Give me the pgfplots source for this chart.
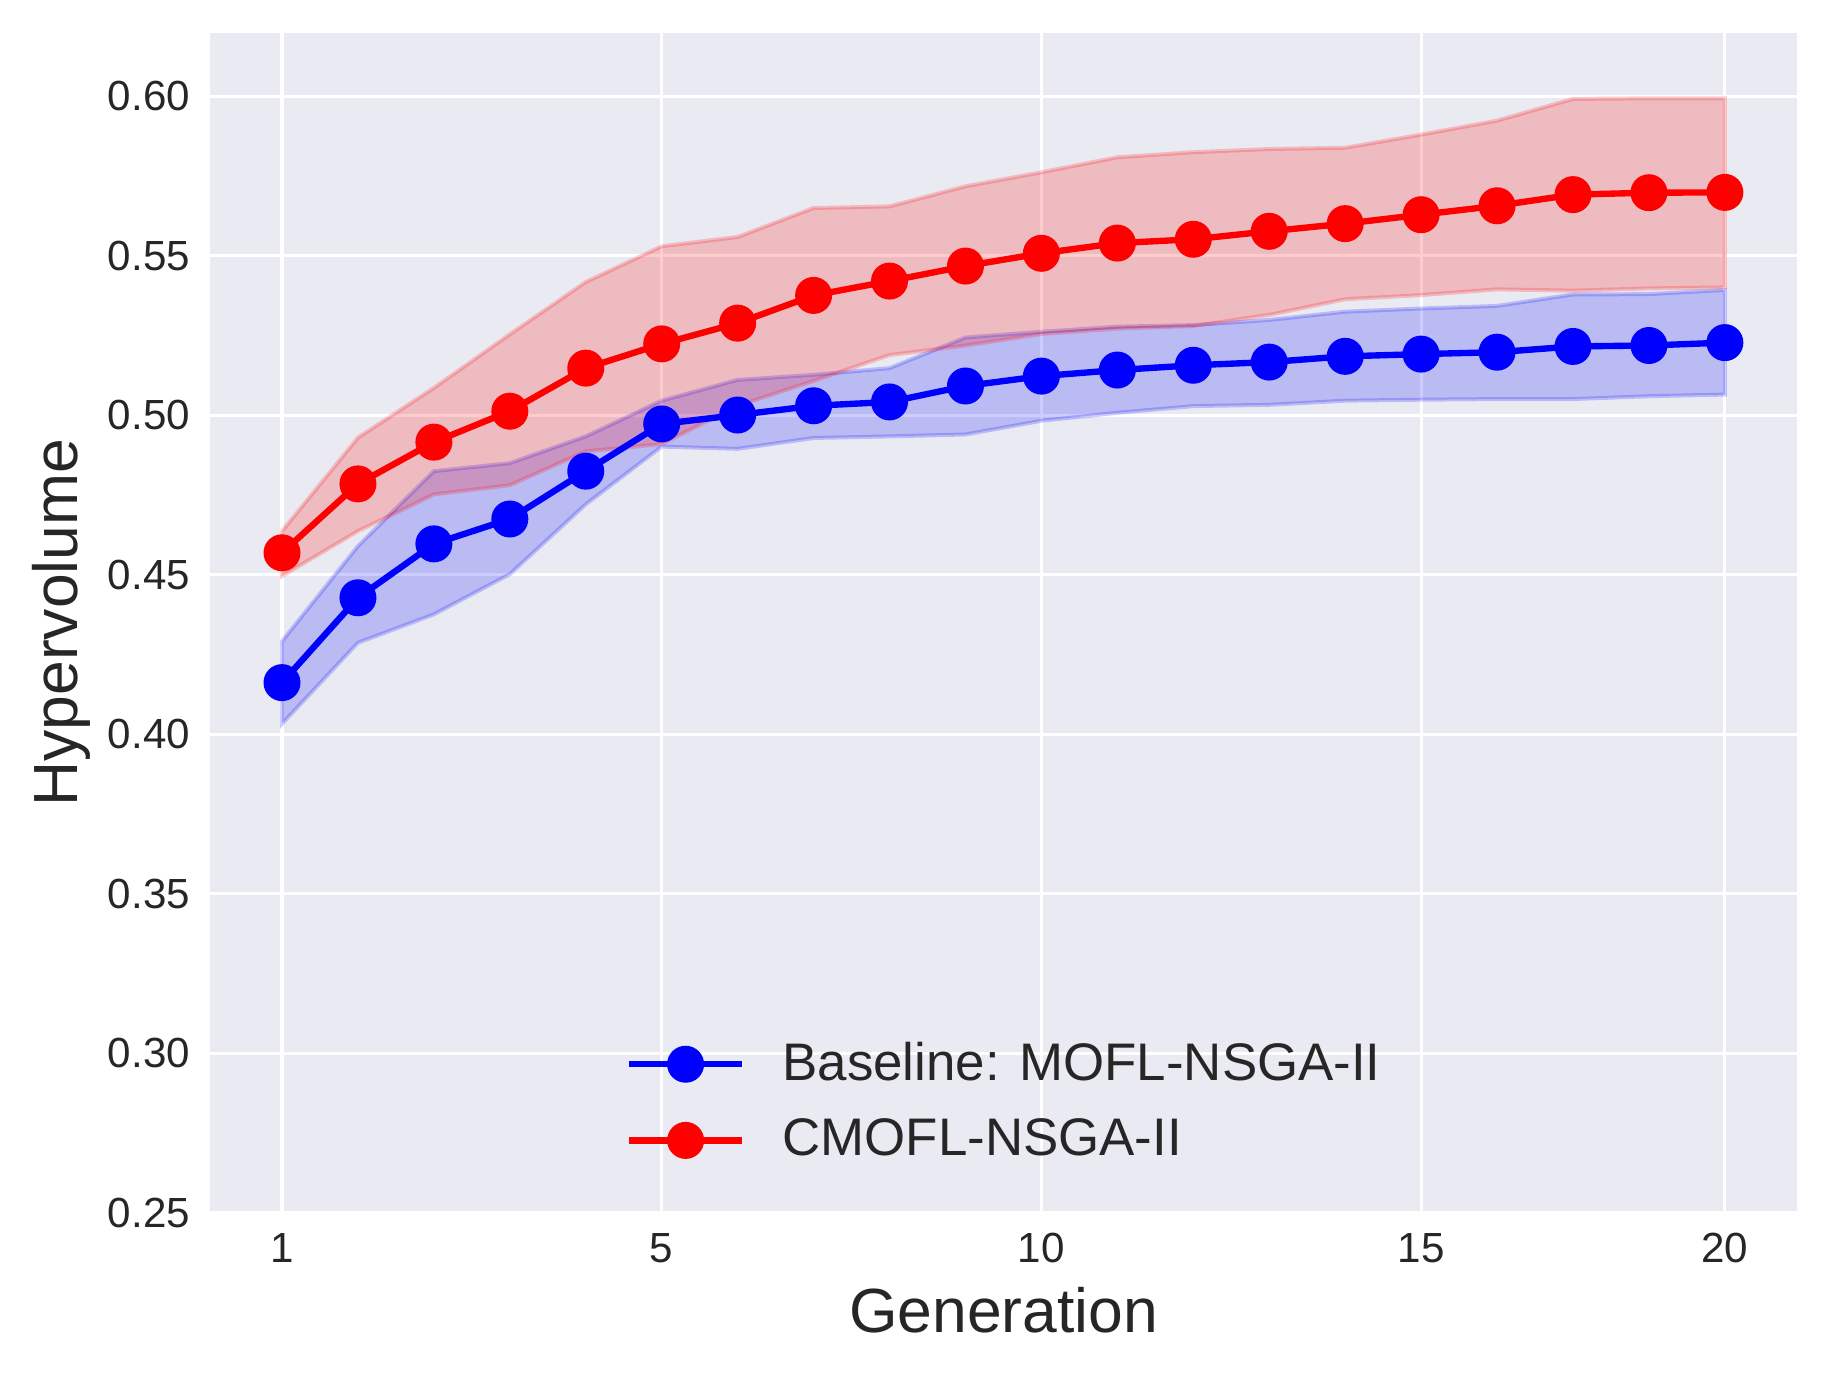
\documentclass[border=0pt]{standalone}
\usepackage{fontspec}
\setmainfont{Liberation Sans}
\usepackage{pgfplots}
\pgfplotsset{compat=1.18}
\definecolor{bg}{HTML}{EAEAF2}
\definecolor{txt}{HTML}{262626}
\begin{document}
\begin{tikzpicture}
\begin{axis}[
  at={(0,0)}, anchor=south west,
  scale only axis, width=399.3pt, height=296.9pt,
  xmin=-0.95, xmax=19.95, ymin=0.25, ymax=0.62,
  axis background/.style={fill=bg},
  axis line style={draw=none},
  major tick length=0pt,
  grid=major, major grid style={white, line width=0.8pt},
  xtick={0,5,10,15,19}, xticklabels={1,5,10,15,20},
  ytick={0.25,0.30,0.35,0.40,0.45,0.50,0.55,0.60},
  yticklabels={0.25,0.30,0.35,0.40,0.45,0.50,0.55,0.60},
  /pgf/number format/assume math mode=true,
  ticklabel style={font=\fontsize{10.6}{13}\selectfont, text=txt},
  xticklabel style={anchor=north, inner sep=0pt, yshift=-5pt},
  yticklabel style={anchor=east, inner sep=0pt, xshift=-4.8pt},
  xlabel={Generation}, ylabel={Hypervolume},
  label style={font=\fontsize{15.7}{19}\selectfont, text=txt},
  xlabel style={at={(axis description cs:0.5,-0.0825)}, anchor=center},
  ylabel style={at={(axis description cs:-0.0935,0.5)}, anchor=center},
  legend style={at={(axis description cs:0.5,0)}, anchor=south, yshift=12.6pt,
    draw=none, fill=none, inner sep=0pt, font=\fontsize{13.3}{15}\selectfont, text=txt,
    column sep=9.4pt, row sep=8.2pt, nodes={inner sep=0pt}, cells={anchor=west}},
  legend image code/.code={\draw[mark repeat=2,mark phase=2] plot coordinates {(0pt,0pt) (14.15pt,0pt) (28.3pt,0pt)};},
]
% blue band
\addplot[draw=blue, draw opacity=0.2, fill=blue, fill opacity=0.2, line width=1pt, forget plot] coordinates {
(0,0.4292) (1,0.4590) (2,0.4825) (3,0.4850) (4,0.4934) (5,0.5046) (6,0.5111) (7,0.5127) (8,0.5148) (9,0.5244)
(10,0.5262) (11,0.5278) (12,0.5283) (13,0.5299) (14,0.5325) (15,0.5335) (16,0.5343) (17,0.5379) (18,0.5380) (19,0.5393)
(19,0.5065) (18,0.5060) (17,0.5051) (16,0.5051) (15,0.5049) (14,0.5046) (13,0.5033) (12,0.5029) (11,0.5008) (10,0.4983)
(9,0.4940) (8,0.4934) (7,0.4929) (6,0.4895) (5,0.4902) (4,0.4721) (3,0.4502) (2,0.4376) (1,0.4287) (0,0.4033)
} -- cycle;
% red band
\addplot[draw=red, draw opacity=0.2, fill=red, fill opacity=0.2, line width=1pt, forget plot] coordinates {
(0,0.4637) (1,0.4930) (2,0.5086) (3,0.5254) (4,0.5418) (5,0.5530) (6,0.5559) (7,0.5650) (8,0.5655) (9,0.5718)
(10,0.5762) (11,0.5809) (12,0.5825) (13,0.5835) (14,0.5839) (15,0.5880) (16,0.5924) (17,0.5992) (18,0.5994) (19,0.5994)
(19,0.5401) (18,0.5398) (17,0.5391) (16,0.5395) (15,0.5377) (14,0.5364) (13,0.5315) (12,0.5280) (11,0.5272) (10,0.5255)
(9,0.5219) (8,0.5189) (7,0.5108) (6,0.5030) (5,0.4910) (4,0.4887) (3,0.4781) (2,0.4752) (1,0.4637) (0,0.4496)
} -- cycle;
\addplot[blue, line width=1.6pt, mark=*, mark size=3.85pt, mark options={solid, fill=blue, draw=none}] coordinates {
(0,0.4162) (1,0.4428) (2,0.4597) (3,0.4675) (4,0.4825) (5,0.4973) (6,0.5001) (7,0.5030) (8,0.5042) (9,0.5092)
(10,0.5123) (11,0.5142) (12,0.5157) (13,0.5167) (14,0.5185) (15,0.5192) (16,0.5198) (17,0.5216) (18,0.5219) (19,0.5228)
};
\addlegendentry{Baseline: MOFL-NSGA-II}
\addplot[red, line width=1.6pt, mark=*, mark size=3.85pt, mark options={solid, fill=red, draw=none}] coordinates {
(0,0.4569) (1,0.4785) (2,0.4916) (3,0.5013) (4,0.5148) (5,0.5224) (6,0.5289) (7,0.5376) (8,0.5421) (9,0.5468)
(10,0.5508) (11,0.5540) (12,0.5552) (13,0.5577) (14,0.5601) (15,0.5629) (16,0.5657) (17,0.5692) (18,0.5698) (19,0.5699)
};
\addlegendentry{CMOFL-NSGA-II}
\end{axis}
\pgfresetboundingbox
\path[use as bounding box] (-52.8pt,-41.3pt) rectangle (407.1pt,305.1pt);
\end{tikzpicture}
\end{document}
